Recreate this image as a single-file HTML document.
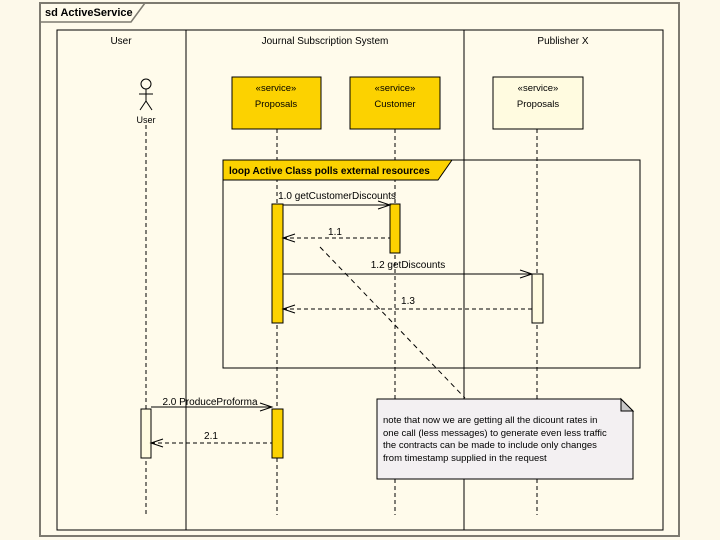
<!DOCTYPE html>
<html><head><style>
body{margin:0;background:#fdf9ea;}
svg{display:block;font-family:"Liberation Sans",sans-serif;}
</style></head><body>
<svg width="720" height="540" viewBox="0 0 720 540">
<rect width="720" height="540" fill="#fdf9ea"/>
<rect x="40" y="3" width="639" height="533" fill="#fffbeb" stroke="#7d7a70" stroke-width="2"/>
<path d="M40 22 H131 L145 3" fill="none" stroke="#7d7a70" stroke-width="1.5"/>
<text x="45" y="16" font-size="11" font-weight="bold">sd ActiveService</text>
<rect x="57" y="30" width="606" height="500" fill="none" stroke="#000"/>
<line x1="186" y1="30" x2="186" y2="530" stroke="#000"/>
<line x1="464" y1="30" x2="464" y2="530" stroke="#000"/>
<g font-size="10" text-anchor="middle">
<text x="121" y="44">User</text>
<text x="325" y="44">Journal Subscription System</text>
<text x="563" y="44">Publisher X</text>
</g>
<g stroke="#000" stroke-dasharray="4,3">
<line x1="146" y1="125" x2="146" y2="515"/>
<line x1="277" y1="129" x2="277" y2="515"/>
<line x1="395" y1="129" x2="395" y2="515"/>
<line x1="537" y1="129" x2="537" y2="515"/>
</g>
<!-- actor -->
<g stroke="#000" fill="none">
<circle cx="146" cy="84" r="5"/>
<line x1="146" y1="89" x2="146" y2="101"/>
<line x1="139" y1="94" x2="153" y2="94"/>
<line x1="146" y1="101" x2="140" y2="110"/>
<line x1="146" y1="101" x2="152" y2="110"/>
</g>
<text x="146" y="123" font-size="9" text-anchor="middle">User</text>
<rect x="232" y="77" width="89" height="52" fill="#fcd200" stroke="#000"/>
<rect x="350" y="77" width="90" height="52" fill="#fcd200" stroke="#000"/>
<rect x="493" y="77" width="90" height="52" fill="#fffbe0" stroke="#000"/>
<g font-size="9.5" text-anchor="middle">
<text x="276" y="91">«service»</text><text x="276" y="107">Proposals</text>
<text x="395" y="91">«service»</text><text x="395" y="107">Customer</text>
<text x="538" y="91">«service»</text><text x="538" y="107">Proposals</text>
</g>
<!-- loop -->
<rect x="223" y="160" width="417" height="208" fill="none" stroke="#000"/>
<path d="M223 160 H452 L438 180 H223 Z" fill="#fcd200" stroke="#000"/>
<text x="229" y="174" font-size="10" font-weight="bold">loop Active Class polls external resources</text>
<!-- activations -->
<rect x="272" y="204" width="11" height="119" fill="#fcd200" stroke="#000"/>
<rect x="390" y="204" width="10" height="49" fill="#fcd200" stroke="#000"/>
<rect x="532" y="274" width="11" height="49" fill="#fffbe0" stroke="#000"/>
<rect x="141" y="409" width="10" height="49" fill="#fffbe0" stroke="#000"/>
<rect x="272" y="409" width="11" height="49" fill="#fcd200" stroke="#000"/>
<g stroke="#000" fill="none">
<line x1="283" y1="205" x2="390" y2="205"/><path d="M378 201 L390 205 L378 209"/>
<line x1="283" y1="238" x2="390" y2="238" stroke-dasharray="4,3"/><path d="M295 234 L283 238 L295 242"/>
<line x1="283" y1="274" x2="532" y2="274"/><path d="M520 270 L532 274 L520 278"/>
<line x1="283" y1="309" x2="532" y2="309" stroke-dasharray="4,3"/><path d="M295 305 L283 309 L295 313"/>
<line x1="151" y1="407" x2="272" y2="407"/><path d="M260 403 L272 407 L260 411"/>
<line x1="151" y1="443" x2="272" y2="443" stroke-dasharray="4,3"/><path d="M163 439 L151 443 L163 447"/>
<line x1="320" y1="247" x2="465" y2="398" stroke-dasharray="5,4"/>
</g>
<g font-size="10" text-anchor="middle">
<text x="337" y="199">1.0 getCustomerDiscounts</text>
<text x="335" y="235">1.1</text>
<text x="408" y="268">1.2 getDiscounts</text>
<text x="408" y="304">1.3</text>
<text x="210" y="405">2.0 ProduceProforma</text>
<text x="211" y="439">2.1</text>
</g>
<path d="M377 399 H621 L633 411 V479 H377 Z" fill="#f3f0f2" stroke="#000"/>
<path d="M621 399 V411 H633 Z" fill="#c8c8c8" stroke="#000"/>
<g font-size="9.5">
<text x="383" y="423">note that now we are getting all the dicount rates in</text>
<text x="383" y="436">one call  (less messages) to generate even less traffic</text>
<text x="383" y="448">the contracts can be made to include only changes</text>
<text x="383" y="461">from timestamp supplied in the request</text>
</g>
</svg>
</body></html>
